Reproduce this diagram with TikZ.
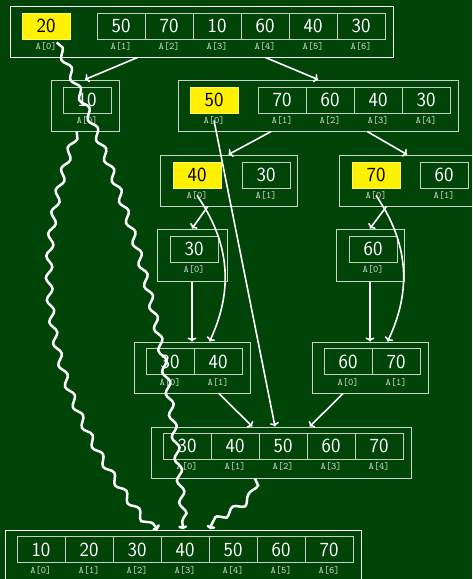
\documentclass[tikz,border=0pt]{standalone}
\usetikzlibrary{arrows.meta,calc,decorations.pathmorphing}
\definecolor{bg}{RGB}{0,68,8}
\definecolor{piv}{RGB}{255,242,0}
\definecolor{boxc}{RGB}{200,212,200}
\definecolor{cellc}{RGB}{195,208,195}
\definecolor{idxc}{RGB}{215,222,215}
\newcommand\acell[6]{\node[#6] (#1) at (#2,#3) {#4};\node[idx] (#1i) at (#2,#3+20.5) {A[#5]};}
\begin{document}
\begin{tikzpicture}[x=1pt,y=-1pt,
  outerbox/.style={draw=boxc, line width=1pt, inner sep=0pt, minimum height=51pt},
  cellbox/.style={draw=cellc, line width=0.9pt, minimum width=48pt, minimum height=26pt, inner sep=0pt, text=white, font=\sffamily\fontsize{20}{20}\selectfont},
  pivot/.style={cellbox, fill=piv, draw=piv!60!white, text=black},
  idx/.style={font=\ttfamily\fontsize{10}{10}\selectfont, text=idxc, inner sep=0pt},
  arr/.style={draw=white, line width=1.6pt, -{To[length=4pt,width=9pt]}},
  snk/.style={draw=white, line width=2.5pt, decorate, decoration={snake, amplitude=3.2pt, segment length=22pt, post length=5pt}, -{To[length=4pt,width=9pt]}}
]
\useasboundingbox (0,0) rectangle (472,579);
\clip (0,0) rectangle (472,579);
\fill[bg] (0,0) rectangle (472,579);

% top array
\node[outerbox, draw=white, minimum width=383pt] (T) at (201.5,31.5) {};
\acell{t0}{46}{26}{20}{0}{pivot}
\acell{t1}{121}{26}{50}{1}{cellbox}
\acell{t2}{169}{26}{70}{2}{cellbox}
\acell{t3}{217}{26}{10}{3}{cellbox}
\acell{t4}{265}{26}{60}{4}{cellbox}
\acell{t5}{313}{26}{40}{5}{cellbox}
\acell{t6}{361}{26}{30}{6}{cellbox}

% row 2
\node[outerbox, minimum width=68pt] (L1) at (85,105.5) {};
\acell{l0}{87}{100}{10}{0}{cellbox}
\node[outerbox, minimum width=280pt] (R1) at (318,105.5) {};
\acell{r0}{214}{100}{50}{0}{pivot}
\acell{r1}{282}{100}{70}{1}{cellbox}
\acell{r2}{330}{100}{60}{2}{cellbox}
\acell{r3}{378}{100}{40}{3}{cellbox}
\acell{r4}{426}{100}{30}{4}{cellbox}

% row 3
\node[outerbox, minimum width=137pt] (L2) at (228.5,180.5) {};
\acell{a0}{197}{175}{40}{0}{pivot}
\acell{a1}{266}{175}{30}{1}{cellbox}
\node[outerbox, minimum width=136pt] (R2) at (407,180.5) {};
\acell{b0}{376}{175}{70}{0}{pivot}
\acell{b1}{444}{175}{60}{1}{cellbox}

% row 4
\node[outerbox, minimum width=70pt, minimum height=52pt] (C) at (192,255) {};
\acell{c0}{194}{249}{30}{0}{cellbox}
\node[outerbox, minimum width=68pt, minimum height=52pt] (D) at (370,255) {};
\acell{d0}{373}{249}{60}{0}{cellbox}

% row 5
\node[outerbox, minimum width=116pt] (E) at (192,367.5) {};
\acell{e0}{170}{361.5}{30}{0}{cellbox}
\acell{e1}{218}{361.5}{40}{1}{cellbox}
\node[outerbox, minimum width=116pt] (F) at (370,367.5) {};
\acell{f0}{348}{361.5}{60}{0}{cellbox}
\acell{f1}{396}{361.5}{70}{1}{cellbox}

% row 6
\node[outerbox, minimum width=260pt] (G) at (281,452.5) {};
\acell{g0}{187}{446}{30}{0}{cellbox}
\acell{g1}{235}{446}{40}{1}{cellbox}
\acell{g2}{283}{446}{50}{2}{cellbox}
\acell{g3}{331}{446}{60}{3}{cellbox}
\acell{g4}{379}{446}{70}{4}{cellbox}

% bottom
\node[outerbox, draw=white, minimum width=356pt] (B) at (183,555.5) {};
\acell{h0}{41}{549.5}{10}{0}{cellbox}
\acell{h1}{89}{549.5}{20}{1}{cellbox}
\acell{h2}{137}{549.5}{30}{2}{cellbox}
\acell{h3}{185}{549.5}{40}{3}{cellbox}
\acell{h4}{233}{549.5}{50}{4}{cellbox}
\acell{h5}{281}{549.5}{60}{5}{cellbox}
\acell{h6}{329}{549.5}{70}{6}{cellbox}

% arrows
\draw[arr] ($(T.south west)!1/3!(T.south east)$) -- (L1.north);
\draw[arr] ($(T.south west)!2/3!(T.south east)$) -- (R1.north);
\draw[arr] ($(R1.south west)!1/3!(R1.south east)$) -- (L2.north);
\draw[arr] ($(R1.south west)!0.675!(R1.south east)$) -- (R2.north);
\draw[arr] ($(L2.south west)!0.35!(L2.south east)$) -- (C.north);
\draw[arr] ($(R2.south west)!0.35!(R2.south east)$) -- (D.north);
\draw[arr] (C.south) -- (E.north);
\draw[arr] (a0i.center) to[bend left=30] ($(E.north west)!0.65!(E.north east)$);
\draw[arr] (D.south) -- (F.north);
\draw[arr] (b0i.center) to[bend left=30] ($(F.north west)!0.65!(F.north east)$);
\draw[arr] ($(E.south west)!0.73!(E.south east)$) -- ($(G.north west)!0.39!(G.north east)$);
\draw[arr] ($(F.south west)!0.27!(F.south east)$) -- ($(G.north west)!0.61!(G.north east)$);
\draw[arr] (r0i.center) -- ($(G.north west)!0.477!(G.north east)$);

% snakes
\draw[snk] (t0i.north east) to[out=-65,in=95] (B.north);
\draw[snk] ($(L1.south west)!0.38!(L1.south east)$) to[out=-110,in=130] ($(B.north west)!0.43!(B.north east)$);
\draw[snk] ($(G.south west)!0.4!(G.south east)$) to[out=-90,in=80] ($(B.north west)!0.576!(B.north east)$);
\end{tikzpicture}
\end{document}
